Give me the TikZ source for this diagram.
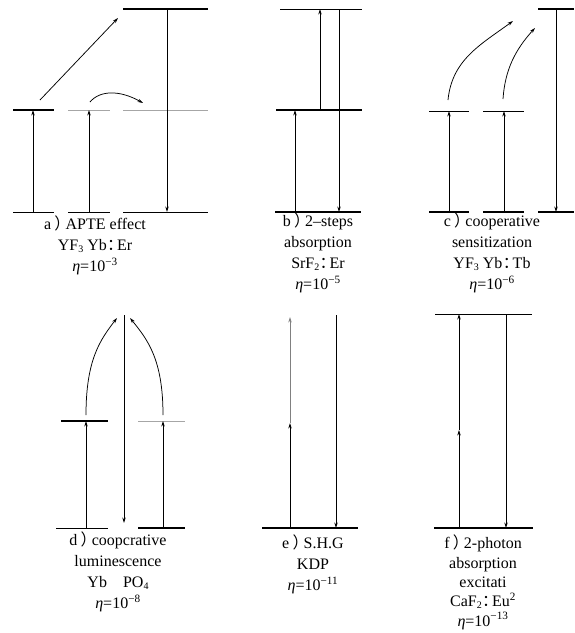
\documentclass[tikz,border=0pt]{standalone}
\usepackage{fontspec}
\setmainfont{Liberation Serif}
\newfontfamily\cjk{Noto Sans CJK SC}
\usetikzlibrary{arrows.meta}
\newcommand{\fp}{\kern0.2em{\cjk ）}\kern-0.3em}
\newcommand{\fc}{{\cjk\kern0.02em：\kern-0.38em}}
\newcommand{\lsub}[1]{\raisebox{-0.25ex}{\fontsize{10}{10}\selectfont #1}}
\begin{document}
\begin{tikzpicture}[x=1pt,y=-1pt,
  lvl/.style={line width=1.1pt},
  lvlthin/.style={line width=0.7pt},
  lvlgray/.style={line width=1pt,gray!70},
  arr/.style={line width=0.75pt,-{Stealth[length=5.5pt,width=3.4pt]}},
  lab/.style={align=center,font=\fontsize{16}{21}\selectfont,inner sep=0pt,anchor=north}]
\useasboundingbox (0,0) rectangle (574,633);
% ---------- panel a ----------
\coordinate (a1g0) at (13,212); \coordinate (a1g1) at (54,212);
\coordinate (a2g0) at (68,212); \coordinate (a2g1) at (110,212);
\coordinate (a3g0) at (123,212); \coordinate (a3g1) at (208,212);
\coordinate (a1m0) at (13,110); \coordinate (a1m1) at (54,110);
\coordinate (a2m0) at (68,110); \coordinate (a2m1) at (110,110);
\coordinate (a3m0) at (123,110); \coordinate (a3m1) at (208,110);
\coordinate (a3t0) at (123,9); \coordinate (a3t1) at (208,9);
\draw[lvlthin] (a1g0) -- (a1g1); \draw[lvlthin] (a2g0) -- (a2g1); \draw[lvlthin] (a3g0) -- (a3g1);
\draw[lvl] (a1m0) -- (a1m1); \draw[lvlgray] (a2m0) -- (a2m1); \draw[lvlgray] (a3m0) -- (a3m1);
\draw[lvl] (a3t0) -- (a3t1);
\coordinate (aup1s) at (33,212); \coordinate (aup1e) at (33,110);
\coordinate (aup2s) at (89,212); \coordinate (aup2e) at (89,110);
\coordinate (adns) at (167,9); \coordinate (adne) at (167,212);
\coordinate (adgs) at (40,100); \coordinate (adge) at (118,18);
\coordinate (awvs) at (90,102); \coordinate (awve) at (143,103);
\draw[arr] (aup1s) -- (aup1e);
\draw[arr] (aup2s) -- (aup2e);
\draw[arr] (adns) -- (adne);
\draw[arr] (adgs) -- (adge);
\draw[arr] (awvs) .. controls (100,90) and (120,90) .. (awve);
\node[lab] (la) at (95,216) {a\fp APTE effect\\YF\lsub{3} Yb\fc Er\\\textit{η}=10\textsuperscript{−3}};
% ---------- panel b ----------
\coordinate (bt0) at (280,9); \coordinate (bt1) at (362,9);
\coordinate (bm0) at (276,110); \coordinate (bm1) at (362,110);
\coordinate (bg0) at (275,212); \coordinate (bg1) at (361,212);
\draw[lvlthin] (bt0) -- (bt1); \draw[lvl] (bm0) -- (bm1); \draw[lvl] (bg0) -- (bg1);
\coordinate (bu1s) at (295,212); \coordinate (bu1e) at (295,110);
\coordinate (bu2s) at (320,110); \coordinate (bu2e) at (320,9);
\coordinate (bds) at (339,9); \coordinate (bde) at (339,212);
\draw[arr] (bu1s) -- (bu1e); \draw[arr] (bu2s) -- (bu2e); \draw[arr] (bds) -- (bde);
\node[lab] (lb) at (318,213) {b\fp 2–steps\\absorption\\SrF\lsub{2}\fc Er\\\textit{η}=10\textsuperscript{−5}};
% ---------- panel c ----------
\coordinate (c1g0) at (429,212); \coordinate (c1g1) at (469,212);
\coordinate (c2g0) at (483,212); \coordinate (c2g1) at (524,212);
\coordinate (c3g0) at (538,212); \coordinate (c3g1) at (574,212);
\coordinate (c1m0) at (429,111); \coordinate (c1m1) at (469,111);
\coordinate (c2m0) at (483,111); \coordinate (c2m1) at (524,111);
\coordinate (c3t0) at (538,9); \coordinate (c3t1) at (574,9);
\draw[lvl] (c1g0) -- (c1g1); \draw[lvl] (c2g0) -- (c2g1); \draw[lvl] (c3g0) -- (c3g1);
\draw[lvlthin] (c1m0) -- (c1m1); \draw[lvlthin] (c2m0) -- (c2m1);
\draw[lvl] (c3t0) -- (c3t1);
\coordinate (cu1s) at (449,212); \coordinate (cu1e) at (449,111);
\coordinate (cu2s) at (504,212); \coordinate (cu2e) at (504,111);
\coordinate (cds) at (556,9); \coordinate (cde) at (556,212);
\draw[arr] (cu1s) -- (cu1e); \draw[arr] (cu2s) -- (cu2e); \draw[arr] (cds) -- (cde);
\coordinate (cc1s) at (448,100); \coordinate (cc1e) at (513,21);
\coordinate (cc2s) at (503,99); \coordinate (cc2e) at (535,28);
\draw[arr] (cc1s) .. controls (452,60) and (480,45) .. (cc1e);
\draw[arr] (cc2s) .. controls (505,70) and (515,50) .. (cc2e);
\node[lab] (lc) at (492,213) {c\fp cooperative\\sensitization\\YF\lsub{3} Yb\fc Tb\\\textit{η}=10\textsuperscript{−6}};
% ---------- panel d ----------
\coordinate (d1g0) at (56,528); \coordinate (d1g1) at (108,528);
\coordinate (d2g0) at (138,528); \coordinate (d2g1) at (185,528);
\coordinate (d1m0) at (61,421); \coordinate (d1m1) at (108,421);
\coordinate (d2m0) at (138,421); \coordinate (d2m1) at (185,421);
\draw[lvlthin] (d1g0) -- (d1g1); \draw[line width=1.4pt] (d2g0) -- (d2g1);
\draw[lvl] (d1m0) -- (d1m1); \draw[lvlgray] (d2m0) -- (d2m1);
\coordinate (du1s) at (86,528); \coordinate (du1e) at (86,421);
\coordinate (du2s) at (163,528); \coordinate (du2e) at (163,421);
\coordinate (dds) at (124,315); \coordinate (dde) at (124,523);
\draw[arr] (du1s) -- (du1e); \draw[arr] (du2s) -- (du2e); \draw[arr] (dds) -- (dde);
\coordinate (dc1s) at (86,415); \coordinate (dc1e) at (117,318);
\coordinate (dc2s) at (163,415); \coordinate (dc2e) at (130,318);
\draw[arr] (dc1s) .. controls (86,360) and (100,340) .. (dc1e);
\draw[arr] (dc2s) .. controls (163,360) and (148,340) .. (dc2e);
\node[lab] (ld) at (118,532) {d\fp coopcrative\\luminescence\\Yb\quad PO\lsub{4}\\\textit{η}=10\textsuperscript{−8}};
% ---------- panel e ----------
\coordinate (eg0) at (262,528); \coordinate (eg1) at (358,528);
\draw[lvl] (eg0) -- (eg1);
\coordinate (eu1s) at (290,528); \coordinate (eu1e) at (290,423);
\coordinate (eu2e) at (290,317);
\coordinate (eds) at (336,315); \coordinate (ede) at (336,528);
\draw[arr] (eu1s) -- (eu1e);
\draw[arr,gray] (eu1e) -- (eu2e);
\draw[arr] (eds) -- (ede);
\node[lab] (le) at (313,535) {e\fp S.H.G\\KDP\\\textit{η}=10\textsuperscript{−11}};
% ---------- panel f ----------
\coordinate (ft0) at (435,314); \coordinate (ft1) at (532,314);
\coordinate (fg0) at (434,528); \coordinate (fg1) at (533,528);
\draw[lvlthin] (ft0) -- (ft1); \draw[lvl] (fg0) -- (fg1);
\coordinate (fu1s) at (459,528); \coordinate (fu1e) at (459,430);
\coordinate (fu2e) at (459,314);
\coordinate (fds) at (506,314); \coordinate (fde) at (506,528);
\draw[arr,line width=0.5pt] (fu1s) -- (fu1e);
\draw[arr,line width=0.9pt] (fu1e) -- (fu2e);
\draw[arr] (fds) -- (fde);
\node[lab,font=\fontsize{16}{19.3}\selectfont] (lf) at (483,535) {f\fp 2-photon\\absorption\\excitati\\CaF\lsub{2}\fc Eu\textsuperscript{2}\\\textit{η}=10\textsuperscript{−13}};
\end{tikzpicture}
\end{document}
